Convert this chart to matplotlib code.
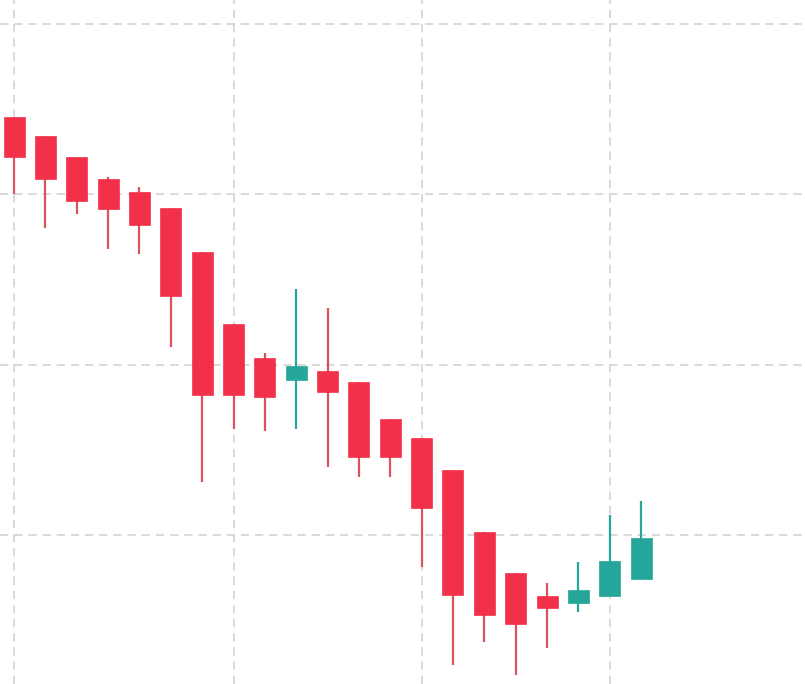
import matplotlib.pyplot as plt
import numpy as np

# OHLC values
opens = [124.5, 123.4, 122.2, 120.9, 120.1, 119.2, 116.6, 112.4, 110.4, 109.1, 109.6,
         109.0, 106.8, 105.7, 103.8, 100.2, 97.8, 96.4, 96.0, 96.4, 97.4]
highs = [124.5, 123.4, 122.2, 121.0, 120.4, 119.2, 116.6, 112.4, 110.7, 114.4, 113.3,
         109.0, 106.8, 105.7, 103.8, 100.2, 97.8, 97.2, 98.4, 101.2, 102.0]
lows = [120.0, 118.0, 118.8, 116.8, 116.5, 111.0, 103.1, 106.2, 106.1, 106.2, 104.0,
        103.4, 103.4, 98.1, 92.4, 93.7, 91.8, 93.4, 95.5, 96.4, 97.4]
closes = [122.2, 120.9, 119.6, 119.1, 118.2, 114.0, 108.2, 108.2, 108.1, 109.9, 108.4,
          104.6, 104.6, 101.6, 96.5, 95.3, 94.8, 95.7, 96.8, 98.5, 99.8]
date_ticks = [0, 7, 13, 19]
price_ticks = [100, 110, 120, 130]

UP = '#26A69A'
DOWN = '#F2304A'
DOWN_WICK = '#D9545A'

o = np.array(opens)
h = np.array(highs)
l = np.array(lows)
c = np.array(closes)
x = np.arange(len(o))
up = c >= o

fig = plt.figure(figsize=(8.05, 6.84), dpi=100)
ax = fig.add_axes([0, 0, 1, 1])

wick_colors = [UP if u else DOWN_WICK for u in up]
body_colors = [UP if u else DOWN for u in up]
ax.vlines(x, l, h, colors=wick_colors, linewidth=1.6, zorder=2)
ax.bar(x, c - o, bottom=o, width=0.67, color=body_colors,
       edgecolor=body_colors, linewidth=0.5, zorder=3)

ax.set_xticks(date_ticks)
ax.set_yticks(price_ticks)
ax.grid(True, color='#D3D3D3', linestyle=(0, (5, 3.5)), linewidth=1.2, zorder=0)
ax.tick_params(length=0, labelbottom=False, labelleft=False)
for s in ax.spines.values():
    s.set_visible(False)

ax.set_xlim(-0.45, 25.23)
ax.set_ylim(91.26, 131.38)

fig.savefig('out.png', dpi=100)
